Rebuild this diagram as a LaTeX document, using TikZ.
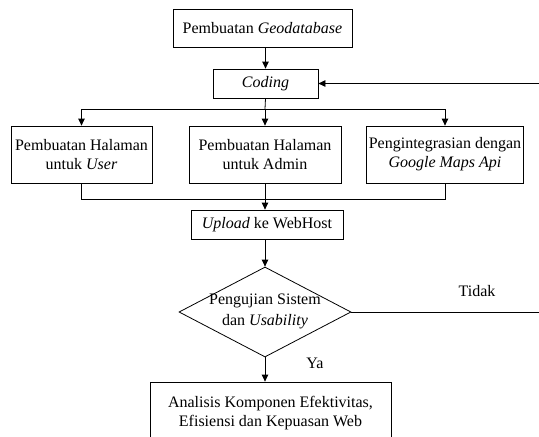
\documentclass[tikz,border=0pt]{standalone}
\usepackage{fontspec}
\setmainfont{Liberation Serif}
\usetikzlibrary{arrows.meta,shapes.geometric}
\begin{document}
\begin{tikzpicture}[x=1pt,y=-1pt,
  every node/.style={font=\fontsize{16}{19}\selectfont},
  box/.style={draw,line width=0.8pt,align=center,inner sep=2pt},
  dec/.style={draw,line width=0.8pt,diamond,aspect=1.91,align=center,inner sep=0pt,minimum width=172pt,minimum height=90pt},
  ln/.style={line width=0.8pt},
  arr/.style={line width=0.8pt,-{Triangle[length=7pt,width=6.5pt]}}]
\clip (0,0) rectangle (539,437);
\useasboundingbox (0,0) rectangle (539,437);
\node[box,minimum width=179pt,minimum height=38pt] (geo) at (262.5,28) {Pembuatan \textit{Geodatabase}};
\node[box,minimum width=105pt,minimum height=29pt] (cod) at (265.5,83.5) {\textit{Coding}};
\node[box,minimum width=141pt,minimum height=57pt] (usr) at (81.5,154.5) {Pembuatan Halaman\\untuk \textit{User}};
\node[box,minimum width=152pt,minimum height=57pt] (adm) at (265,154.5) {Pembuatan Halaman\\untuk Admin};
\node[box,minimum width=152pt,minimum height=57pt] (gma) at (445,154.5) {Pengintegrasian dengan\\\textit{Google Maps Api}};
\node[box,minimum width=152pt,minimum height=29pt] (upl) at (267,224.5) {\textit{Upload} ke WebHost};
\node[dec] (uji) at (265,312) {};
\node at (265,301) {Pengujian Sistem};
\node at (265,322) {dan \textit{Usability}};
\node[box,minimum width=241pt,minimum height=62pt] (ana) at (270.5,413) {Analisis Komponen Efektivitas,\\Efisiensi dan Kepuasan Web};
\coordinate (jt) at (265,109);
\coordinate (jb) at (265,199);
\coordinate (rc) at (545,83.5);
\coordinate (rt) at (545,312);
\draw[arr] (geo.south -| cod) -- (cod.north);
\draw[ln] (cod.south) -- (jt);
\draw[ln] (jt -| usr) -- (jt -| gma);
\draw[arr] (jt -| usr) -- (usr.north);
\draw[arr] (jt -| adm) -- (adm.north);
\draw[arr] (jt -| gma) -- (gma.north);
\draw[ln] (usr.south) -- (jb -| usr) -- (jb -| gma) -- (gma.south);
\draw[ln] (adm.south) -- (jb);
\draw[arr] (jb) -- (jb |- upl.north);
\draw[arr] (upl.south -| uji) -- (uji.north);
\draw[arr] (uji.south) -- (uji.south |- ana.north);
\node at (315,363) {Ya};
\draw[ln] (uji.east) -- (rt);
\node at (477,291) {Tidak};
\draw[arr] (rc) -- (cod.east);
\end{tikzpicture}
\end{document}
